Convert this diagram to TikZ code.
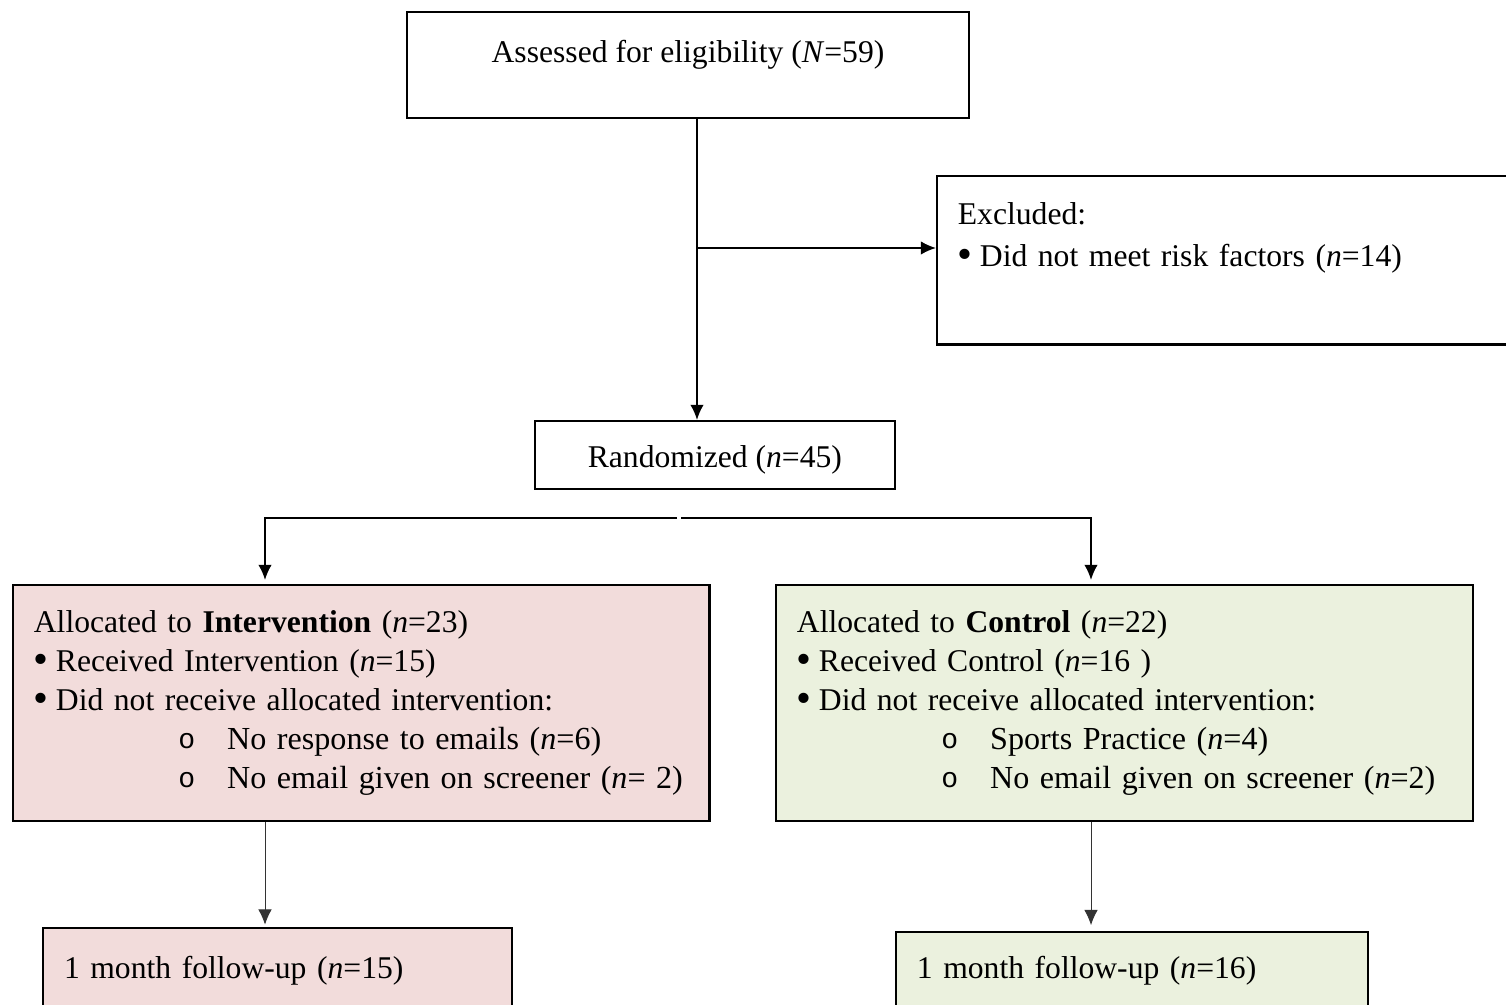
\documentclass[tikz,border=0pt]{standalone}
\usepackage{fontspec}
\setmainfont{Liberation Serif}
\newfontfamily\bulletfont{Liberation Mono}
\usetikzlibrary{arrows.meta, calc}

\definecolor{interpink}{HTML}{F2DCDB}
\definecolor{ctrlgreen}{HTML}{EBF1DE}

% bullets for the list lines
\newcommand\bul{\makebox[9.4pt][l]{\raisebox{-0.6pt}{\scalebox{1.35}{\textbullet}}}}
\newcommand\subitm[1]{\hspace*{61.7pt}\makebox[20.8pt][l]{\raisebox{0.3pt}{\bulletfont\fontsize{12}{12}\selectfont o}}\mbox{\fontsize{13.7}{16.6}\selectfont #1}}

\tikzset{
  box/.style={draw, line width=0.9pt, anchor=north west, inner ysep=0pt,
    font=\fontsize{13.5}{16.6}\selectfont},
  conn/.style={line width=0.8pt},
  thinconn/.style={line width=0.4pt, draw=black!80},
}

\begin{document}
\begin{tikzpicture}[x=0.15mm, y=-0.15mm, >={Latex[length=6.5pt,width=5.8pt]}]
    \useasboundingbox (0,0) rectangle (1506,1005);

    \node[box, minimum width=239.8pt, inner xsep=0pt] (assess) at (406,11)
        {\rule[-23.4pt]{0pt}{45.1pt}Assessed for eligibility (\textit{N}=59)};
    \node[box, minimum width=255pt, text width=237.2pt, inner xsep=8.9pt, align=left] (excl) at (936,175)
        {\rule{0pt}{20.8pt}Excluded:\\[1.3pt]
         \bul Did not meet risk factors (\textit{n}=14)\rule[-33.2pt]{0pt}{0pt}};
    \node[box, minimum width=153.5pt, inner xsep=0pt] (rand) at (534,420)
        {\rule[-8.9pt]{0pt}{28.9pt}Randomized (\textit{n}=45)};

    \node[box, fill=interpink, minimum width=297.2pt, minimum height=100.8pt,
          text width=279.4pt, inner xsep=8.9pt, align=left] (interv) at (12,584)
        {Allocated to \textbf{Intervention} (\textit{n}=23)\\
         \bul Received Intervention (\textit{n}=15)\\
         \bul Did not receive allocated intervention:\\
         \subitm{No response to emails (\textit{n}=6)}\\
         \subitm{No email given on screener (\textit{n}= 2)}};
    \node[box, fill=ctrlgreen, minimum width=297.6pt, minimum height=100.8pt,
          text width=279.8pt, inner xsep=8.9pt, align=left] (ctrl) at (775,584)
        {Allocated to \textbf{Control} (\textit{n}=22)\\
         \bul Received Control (\textit{n}=16 )\\
         \bul Did not receive allocated intervention:\\
         \subitm{Sports Practice (\textit{n}=4)}\\
         \subitm{No email given on screener (\textit{n}=2)}};

    \node[box, fill=interpink, minimum width=200.3pt, text width=182.4pt, inner xsep=8.9pt, align=left] (fuI) at (42,927)
        {\rule[-29.3pt]{0pt}{51pt}1 month follow-up (\textit{n}=15)};
    \node[box, fill=ctrlgreen, minimum width=201.5pt, text width=183.7pt, inner xsep=8.9pt, align=left] (fuC) at (895,931)
        {\rule[-31pt]{0pt}{51pt}1 month follow-up (\textit{n}=16)};

    \coordinate (trunk) at (697,248);
    \coordinate (splitL) at (677,518);
    \coordinate (splitR) at (681,518);
    \coordinate (colL) at (265,518);
    \coordinate (colR) at (1091,518);

    \draw[conn, ->] (assess.south -| trunk) -- (trunk |- rand.north);
    \draw[conn, ->] (trunk) -- (trunk -| excl.west);
    \draw[conn, ->, shorten >=1.7pt] (splitL) -- (colL) -- (colL |- interv.north);
    \draw[conn, ->, shorten >=1.7pt] (splitR) -- (colR) -- (colR |- ctrl.north);
    \draw[thinconn, ->, shorten >=1pt] (colL |- interv.south) -- (colL |- fuI.north);
    \draw[thinconn, ->, shorten >=2.5pt] (colR |- ctrl.south) -- (colR |- fuC.north);
\end{tikzpicture}
\end{document}
